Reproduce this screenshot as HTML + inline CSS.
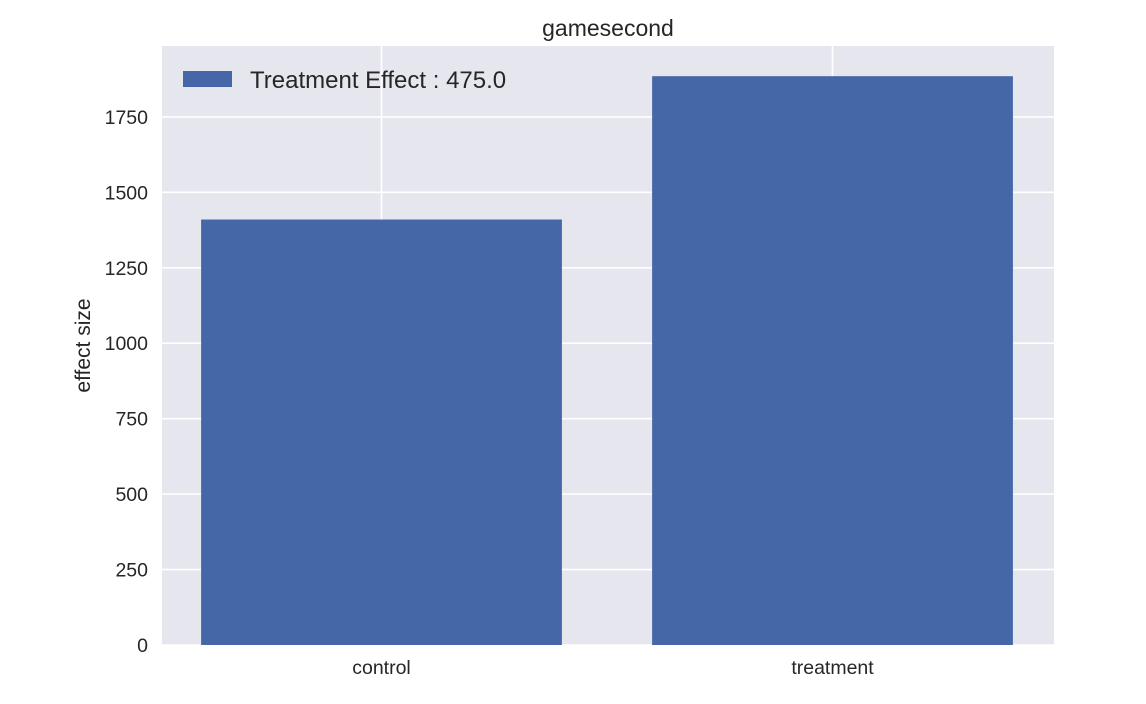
<!DOCTYPE html>
<html><head><meta charset="utf-8"><style>
body{margin:0;background:#fff;}
svg{display:block;font-family:"Liberation Sans",Arial,sans-serif;}
</style></head><body>
<svg id="chart" width="1146" height="704"></svg>
<script>
const categories = ["control", "treatment"];
const values = [1410, 1885];
const yTicks = [0, 250, 500, 750, 1000, 1250, 1500, 1750];
const titleText = "gamesecond";
const legendText = "Treatment Effect : 475.0";

const NS = "http://www.w3.org/2000/svg";
const svg = document.getElementById("chart");
const L = 162, R = 1054, T = 46, B = 645;
const xMin = -0.4867, xMax = 1.4911, yMin = 0, yMax = 1985;
const xs = v => L + (v - xMin) / (xMax - xMin) * (R - L);
const ys = v => B - (v - yMin) / (yMax - yMin) * (B - T);
function mk(tag, attrs, text) {
  const e = document.createElementNS(NS, tag);
  for (const k in attrs) e.setAttribute(k, attrs[k]);
  if (text !== undefined) e.textContent = text;
  svg.appendChild(e);
  return e;
}
const bg = mk("rect", {x: L, y: T, width: R - L, height: B - T, fill: "#e6e6ef"});


yTicks.forEach(t => {
  const g = mk("line", {x1: L, x2: R, y1: ys(t), y2: ys(t), stroke: "#fff", "stroke-width": 1.6});
  
  
  const lb = mk("text", {x: L - 14, y: ys(t) + 7, "text-anchor": "end", "font-size": 19.5, fill: "#262626"}, String(t));
  
  
});
categories.forEach((c, i) => {
  const g = mk("line", {x1: xs(i), x2: xs(i), y1: T, y2: B, stroke: "#fff", "stroke-width": 1.6});
  
  
});
categories.forEach((c, i) => {
  const b = mk("rect", {x: xs(i - 0.4), y: ys(values[i]), width: xs(i + 0.4) - xs(i - 0.4), height: ys(0) - ys(values[i]), fill: "#4567a7"});
  
  
  const lb = mk("text", {x: xs(i), y: B + 29, "text-anchor": "middle", "font-size": 19.5, fill: "#262626"}, c);
  
  
});
const title = mk("text", {x: (L + R) / 2, y: 36, "text-anchor": "middle", "font-size": 23, fill: "#262626"}, titleText);


const yt = mk("text", {x: 90, y: (T + B) / 2, "text-anchor": "middle", "font-size": 21, fill: "#262626", transform: "rotate(-90 90 " + ((T + B) / 2) + ")"}, "effect size");


const ls = mk("rect", {x: 183, y: 71, width: 49, height: 16, fill: "#4567a7"});


const lt = mk("text", {x: 250, y: 88, "font-size": 24, fill: "#262626"}, legendText);


</script>
</body></html>
